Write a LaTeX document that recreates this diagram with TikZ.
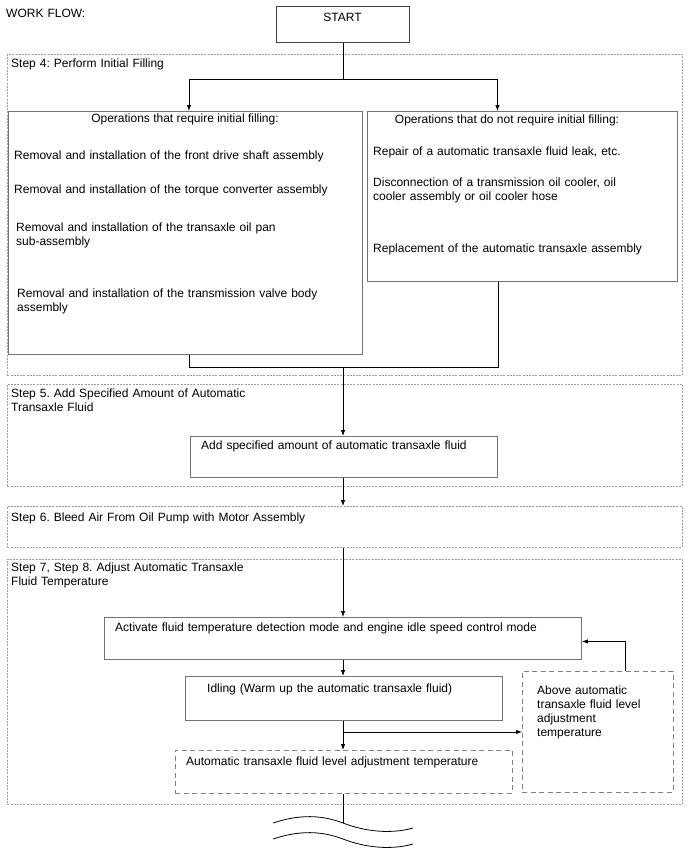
\documentclass[tikz,border=0pt]{standalone}
\usepackage{fontspec}
\setmainfont{Liberation Sans}
\usetikzlibrary{arrows.meta}
\frenchspacing
\begin{document}
\begin{tikzpicture}[x=1pt,y=-1pt,
  every node/.style={inner sep=0pt, font=\fontsize{12}{14}\selectfont\frenchspacing},
  txt/.style={anchor=base west, text width=330pt, align=left},
  ctxt/.style={anchor=base},
  stepbox/.style={draw=black!38, line width=0.9pt, dash pattern=on 2pt off 1.2pt, anchor=north west},
  opbox/.style={draw=black!55, line width=0.9pt, anchor=north west},
  startbox/.style={draw=black!75, line width=0.9pt, anchor=north west},
  tempbox/.style={draw=black!50, line width=0.9pt, dash pattern=on 5pt off 3.5pt, anchor=north west},
  conn/.style={draw=black, line width=0.8pt},
  arr/.style={conn, -{Latex[length=6pt,width=4.5pt]}},
]
\useasboundingbox[fill=white] (0,0) rectangle (688,852);

% step frames
\node[stepbox, minimum width=675pt, minimum height=321pt] (step4) at (7,54) {};
\node[stepbox, minimum width=675pt, minimum height=102pt] (step5) at (7,384) {};
\node[stepbox, minimum width=675pt, minimum height=41pt] (step6) at (7,506) {};
\node[stepbox, minimum width=675pt, minimum height=245pt] (step7) at (7,559) {};

% boxes
\node[startbox, minimum width=133pt, minimum height=36pt] (start) at (276,6) {};
\node[opbox, minimum width=354pt, minimum height=243pt] (left) at (8,111) {};
\node[opbox, minimum width=310pt, minimum height=170pt] (right) at (367,111) {};
\node[opbox, minimum width=307pt, minimum height=41pt] (add) at (190,436) {};
\node[opbox, minimum width=477pt, minimum height=42pt] (act) at (104,617) {};
\node[opbox, minimum width=317pt, minimum height=44pt] (idle) at (185,676) {};
\node[tempbox, minimum width=337pt, minimum height=43pt] (tmp) at (175,750) {};
\node[tempbox, minimum width=151pt, minimum height=121pt] (above) at (522,671) {};

% texts
\node[txt] (wf) at (6,17) {WORK FLOW:};
\node[ctxt] (startt) at (342.5,21) {START};
\node[txt] (s4) at (11,67) {Step 4: Perform Initial Filling};
\node[ctxt] (lt) at (185,122) {Operations that require initial filling:};
\node[txt] (l1) at (14,159) {Removal and installation of the front drive shaft assembly};
\node[txt] (l2) at (14,193) {Removal and installation of the torque converter assembly};
\node[txt] (l3) at (16,231) {Removal and installation of the transaxle oil pan\\sub-assembly};
\node[txt] (l4) at (17,297) {Removal and installation of the transmission valve body\\assembly};
\node[ctxt] (rt) at (507,123) {Operations that do not require initial filling:};
\node[txt] (r1) at (373,155) {Repair of a automatic transaxle fluid leak, etc.};
\node[txt] (r2) at (373,186) {Disconnection of a transmission oil cooler, oil\\cooler assembly or oil cooler hose};
\node[txt] (r3) at (373,252) {Replacement of the automatic transaxle assembly};
\node[txt] (s5) at (11,397) {Step 5. Add Specified Amount of Automatic\\Transaxle Fluid};
\node[txt] (addt) at (201,449) {Add specified amount of automatic transaxle fluid};
\node[txt] (s6) at (11,521) {Step 6. Bleed Air From Oil Pump with Motor Assembly};
\node[txt] (s7) at (11,571) {Step 7, Step 8. Adjust Automatic Transaxle\\Fluid Temperature};
\node[txt, text width=470pt] (actt) at (115,631) {Activate fluid temperature detection mode and engine idle speed control mode};
\node[txt] (idlet) at (207,692) {Idling (Warm up the automatic transaxle fluid)};
\node[txt] (tmpt) at (186,765) {Automatic transaxle fluid level adjustment temperature};
\node[txt, text width=140pt] (abovet) at (537,694) {Above automatic\\transaxle fluid level\\adjustment\\temperature};

% connectors
\draw[conn] (start.south) -- ++(0,36) coordinate (split);
\draw[arr] (split) -| ([xshift=3.5pt]left.north);
\draw[arr] (split) -| ([xshift=-25pt]right.north);
\coordinate (join) at (343,367);
\draw[conn] ([xshift=4pt]left.south) |- (join);
\draw[conn] ([xshift=-24pt]right.south) |- (join);
\draw[arr] (join) -- (join |- add.north);
\draw[arr] (join |- add.south) -- (join |- step6.north);
\draw[arr] (join |- step6.south) -- (join |- act.north);
\draw[arr] (join |- act.south) -- (join |- idle.north);
\draw[arr] (join |- idle.south) -- (join |- tmp.north);
\draw[arr] (join |- above.west) -- (above.west);
\draw[arr] ([xshift=27.5pt]above.north) |- ([yshift=-3pt]act.east);
\coordinate (brk) at (343,823);
\draw[conn] (join |- tmp.south) -- (brk);

% break mark
\draw[conn] (273,823) .. controls (300,814) and (322,815) .. (brk) .. controls (366,832) and (392,834) .. (413,828);
\draw[conn] (273,839) .. controls (300,830) and (322,831) .. (343,839) .. controls (366,848) and (392,850) .. (413,844);
\end{tikzpicture}
\end{document}
